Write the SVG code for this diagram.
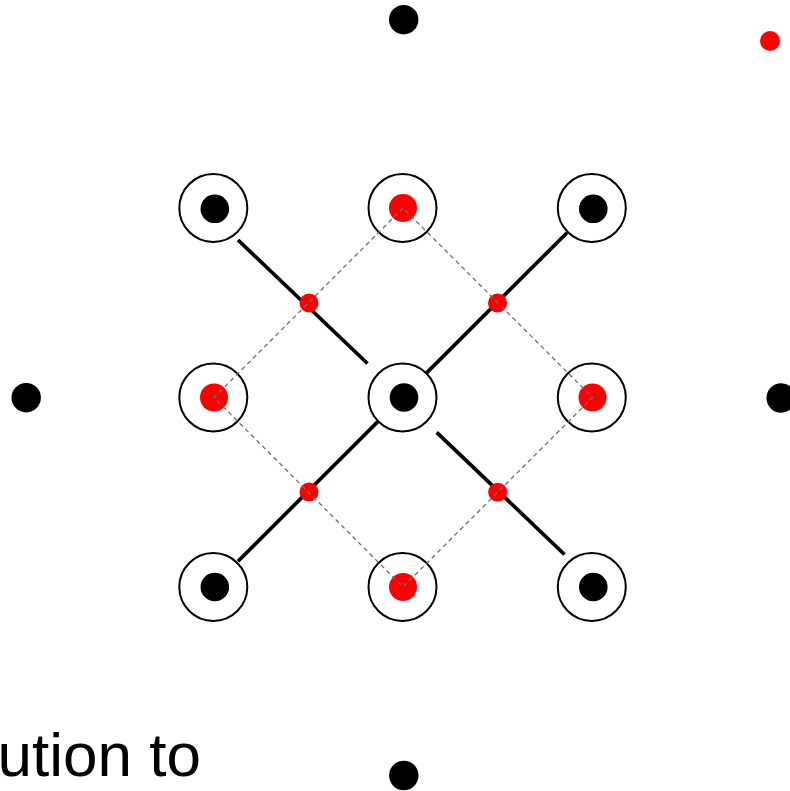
<svg xmlns="http://www.w3.org/2000/svg" width="790" height="791" viewBox="0 0 790 791">
<style>
.ring{fill:#fff;stroke:#000;stroke-width:2}
.bd{fill:#000}
.rd{fill:#f00}
.solid{stroke:#000;stroke-width:3.7;fill:none}
.dash{stroke:#6e6e6e;stroke-width:1.3;stroke-dasharray:4.5 3.5;fill:none}
.lbl{font-family:"Liberation Sans",Arial,sans-serif;font-size:62px;fill:#000}
</style>
<rect width="790" height="791" fill="#fff"/>
<g id="connectors">
<line class="solid" x1="238" y1="240" x2="367.5" y2="363.5"/>
<line class="solid" x1="567" y1="232.7" x2="238" y2="561.3"/>
<line class="solid" x1="436.7" y1="432.3" x2="564.5" y2="554.5"/>
</g>
<g id="n-tl"><circle class="ring" cx="213.3" cy="208" r="34"/><circle class="bd" cx="214.8" cy="208.8" r="14.3"/></g>
<g id="n-tc"><circle class="ring" cx="402.5" cy="208" r="34"/><circle class="rd" cx="403" cy="208" r="14"/></g>
<g id="n-tr"><circle class="ring" cx="591.8" cy="208" r="34"/><circle class="bd" cx="593.3" cy="208.8" r="14.3"/></g>
<g id="n-ml"><circle class="ring" cx="213.3" cy="397.5" r="34"/><circle class="rd" cx="214" cy="397.5" r="14"/></g>
<g id="n-c"><circle class="ring" cx="402.5" cy="397.5" r="34"/><circle class="bd" cx="404" cy="397.5" r="14.3"/></g>
<g id="n-mr"><circle class="ring" cx="591.8" cy="397.5" r="34"/><circle class="rd" cx="592.5" cy="397.5" r="14"/></g>
<g id="n-bl"><circle class="ring" cx="213.3" cy="587" r="34"/><circle class="bd" cx="214.8" cy="587" r="14.3"/></g>
<g id="n-bc"><circle class="ring" cx="402.5" cy="587" r="34"/><circle class="rd" cx="403" cy="587" r="14"/></g>
<g id="n-br"><circle class="ring" cx="591.8" cy="587" r="34"/><circle class="bd" cx="593.3" cy="587" r="14.3"/></g>
<g id="m1"><circle class="rd" cx="309" cy="303" r="9.5"/></g>
<g id="m2"><circle class="rd" cx="497.5" cy="303" r="9.5"/></g>
<g id="m3"><circle class="rd" cx="309" cy="492" r="9.5"/></g>
<g id="m4"><circle class="rd" cx="497.7" cy="492.3" r="9.5"/></g>
<g id="dashes">
<polyline class="dash" points="403,208 214,397.5 403,587 592.5,397.5 403,208"/>
</g>
<g id="o-top"><circle class="bd" cx="403.7" cy="19.7" r="14.7"/></g>
<g id="o-left"><circle class="bd" cx="26.2" cy="397.7" r="14.7"/></g>
<g id="o-right"><circle class="bd" cx="781.2" cy="398" r="14.7"/></g>
<g id="o-bottom"><circle class="bd" cx="403.8" cy="775.5" r="14.7"/></g>
<g id="r-tr"><circle class="rd" cx="770" cy="41" r="10"/></g>
<text class="lbl" x="201" y="776" text-anchor="end">ution to</text>
</svg>
